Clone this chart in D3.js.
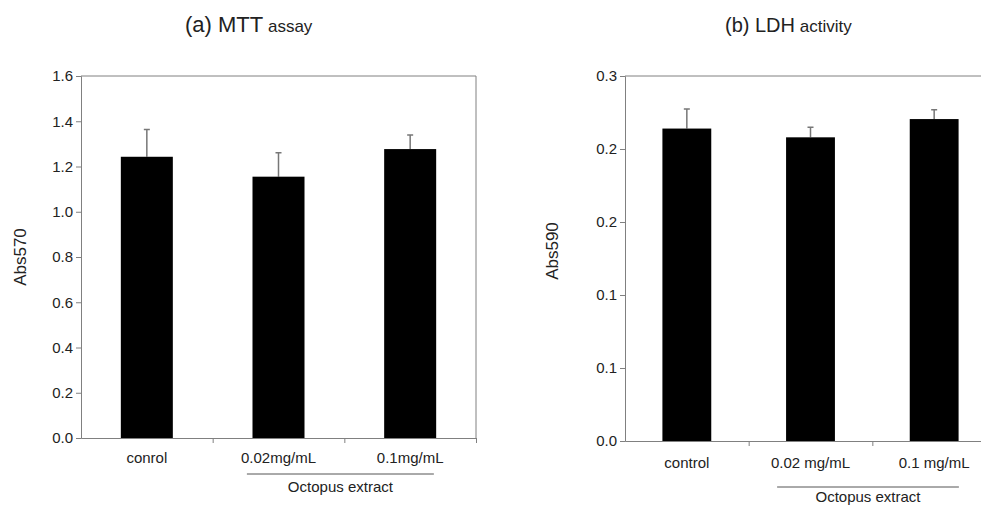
<!DOCTYPE html>
<html>
<head>
<meta charset="utf-8">
<script src="https://cdn.jsdelivr.net/npm/d3@7"></script>
<style>
  body { margin: 0; background: #fff; }
  svg { font-family: "Liberation Sans", Arial, sans-serif; }
  .axis path, .axis line { stroke: #808080; }
  .axis text { font-size: 15px; fill: #222; }
</style>
</head>
<body>
<div id="chart"></div>
<script>
// (a) MTT assay
var mttCats = ["conrol", "0.02mg/mL", "0.1mg/mL"];
var mttMean = [1.243, 1.155, 1.277];
var mttErr = [0.120, 0.106, 0.062];
var mttTicks = [0, 0.2, 0.4, 0.6, 0.8, 1.0, 1.2, 1.4, 1.6];
var mttTickLabels = ["0.0", "0.2", "0.4", "0.6", "0.8", "1.0", "1.2", "1.4", "1.6"];

// (b) LDH activity
var ldhCats = ["control", "0.02 mg/mL", "0.1 mg/mL"];
var ldhMean = [0.214, 0.208, 0.2205];
var ldhErr = [0.0134, 0.0069, 0.0064];
var ldhTicks = [0, 0.05, 0.1, 0.15, 0.2, 0.25];
var ldhTickLabels = ["0.0", "0.1", "0.1", "0.2", "0.2", "0.3"];

var svg = d3.select("#chart").append("svg")
    .attr("width", 981)
    .attr("height", 506);

function drawPanel (cfg) {
  var x = d3.scaleBand().domain(cfg.cats).range([cfg.left, cfg.right]).padding(0),
      y = d3.scaleLinear().domain([0, cfg.ticks[cfg.ticks.length - 1]]).range([cfg.bottom, cfg.top]),
      barW = x.bandwidth() * 0.395,
      g = svg.append("g");

  var data = cfg.cats.map(function (c, i) { return {cat: c, mean: cfg.mean[i], err: cfg.err[i]}; });

  // frame (top and right)
  g.append("path")
    .attr("d", "M" + cfg.left + "," + y.range()[1] + "H" + cfg.right + "V" + cfg.bottom)
    .attr("fill", "none")
    .attr("stroke", "#808080");

  var yAxis = d3.axisLeft(y)
      .tickValues(cfg.ticks)
      .tickSize(5)
      .tickPadding(3)
      .tickFormat(function (d, i) { return cfg.tickLabels[i]; });

  g.append("g")
    .attr("class", "y axis")
    .attr("transform", "translate(" + cfg.left + ",0)")
    .call(yAxis);

  // x axis: ticks sit between categories
  var xAxis = d3.axisBottom(d3.scaleLinear().domain([cfg.left, cfg.right]).range([cfg.left, cfg.right]))
      .tickValues(cfg.cats.slice(1).map(function (c) { return x(c); }).concat([cfg.right]))
      .tickSize(5)
      .tickSizeOuter(0)
      .tickFormat("");

  g.append("g")
    .attr("class", "x axis")
    .attr("transform", "translate(0," + cfg.bottom + ")")
    .call(xAxis);

  g.selectAll(".cat")
    .data(data)
  .enter().append("text")
    .attr("class", "cat")
    .attr("x", function (d) { return x(d.cat) + x.bandwidth() / 2; })
    .attr("y", cfg.bottom + cfg.labelDy)
    .attr("text-anchor", "middle")
    .attr("font-size", 15)
    .attr("fill", "#222")
    .text(function (d) { return d.cat; });

  // error bars (upper half only)
  g.selectAll(".err")
    .data(data)
  .enter().append("path")
    .attr("class", "err")
    .attr("d", function (d) {
      var cx = x(d.cat) + x.bandwidth() / 2;
      return "M" + cx + "," + y(d.mean) + "V" + y(d.mean + d.err) + "M" + (cx - 3) + "," + y(d.mean + d.err) + "H" + (cx + 3);
    })
    .attr("stroke", "#777")
    .attr("stroke-width", 1.5)
    .attr("fill", "none");

  g.selectAll(".bar")
    .data(data)
  .enter().append("rect")
    .attr("class", "bar")
    .attr("x", function (d) { return x(d.cat) + (x.bandwidth() - barW) / 2; })
    .attr("width", barW)
    .attr("y", function (d) { return y(d.mean); })
    .attr("height", function (d) { return cfg.bottom - y(d.mean); })
    .attr("fill", "#000");

  // group line under the two extract doses
  var gx0 = x(cfg.cats[1]) + x.bandwidth() * cfg.groupStart,
      gx1 = x(cfg.cats[2]) + x.bandwidth() * cfg.groupEnd;
  g.append("line")
    .attr("x1", gx0).attr("x2", gx1)
    .attr("y1", cfg.bottom + cfg.groupDy).attr("y2", cfg.bottom + cfg.groupDy)
    .attr("stroke", "#555");
  g.append("text")
    .attr("x", (gx0 + gx1) / 2)
    .attr("y", cfg.bottom + cfg.groupDy + cfg.groupTextDy)
    .attr("text-anchor", "middle")
    .attr("font-size", 15)
    .attr("fill", "#222")
    .text("Octopus extract");

  g.append("text")
    .attr("transform", "translate(" + cfg.yLabelX + "," + cfg.yLabelY + ") rotate(-90)")
    .attr("text-anchor", "middle")
    .attr("font-size", 17)
    .attr("fill", "#222")
    .text(cfg.yLabel);

  var title = g.append("text")
    .attr("x", cfg.titleX)
    .attr("y", 32)
    .attr("fill", "#222");
  title.append("tspan").attr("font-size", cfg.titleSize).text(cfg.title[0]);
  title.append("tspan").attr("font-size", 17).text(" " + cfg.title[1]);
}

drawPanel({
  cats: mttCats, mean: mttMean, err: mttErr,
  ticks: mttTicks, tickLabels: mttTickLabels,
  left: 81, right: 476, top: 76, bottom: 438,
  labelDy: 25, groupStart: 0.26, groupEnd: 0.68, groupDy: 36, groupTextDy: 18,
  yLabel: "Abs570", yLabelX: 26, yLabelY: 257,
  title: ["(a) MTT", "assay"], titleX: 185, titleSize: 22
});

drawPanel({
  cats: ldhCats, mean: ldhMean, err: ldhErr,
  ticks: ldhTicks, tickLabels: ldhTickLabels,
  left: 625, right: 996, top: 76, bottom: 441,
  labelDy: 27, groupStart: 0.23, groupEnd: 0.7, groupDy: 46, groupTextDy: 15,
  yLabel: "Abs590", yLabelX: 558, yLabelY: 251,
  title: ["(b) LDH", "activity"], titleX: 725, titleSize: 20
});
</script>
</body>
</html>
